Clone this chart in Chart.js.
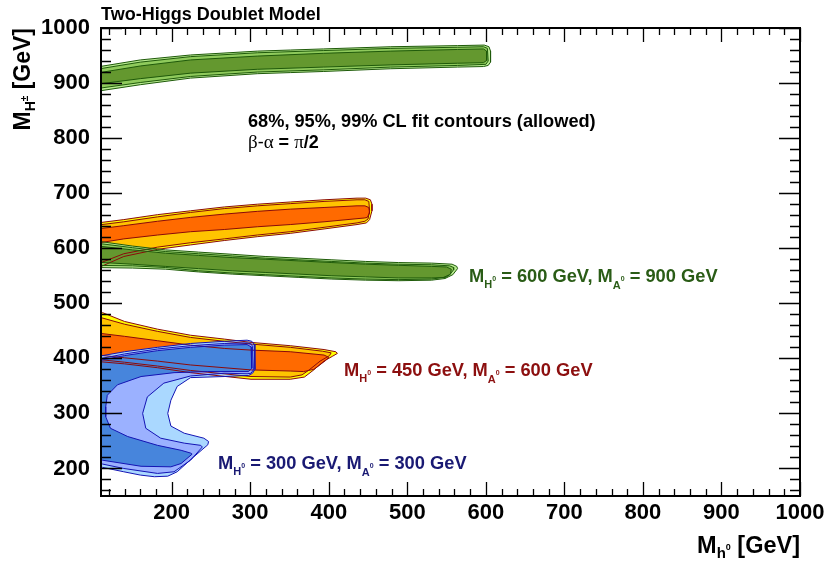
<!DOCTYPE html>
<html>
<head>
<meta charset="utf-8">
<script src="https://cdn.jsdelivr.net/npm/chart.js@4.4.0/dist/chart.umd.min.js"></script>
<style>
  html, body { margin: 0; padding: 0; background: #fff; }
  canvas { display: block; }
</style>
</head>
<body>
<canvas id="fit" width="827" height="566"></canvas>
<script>
// axis labels
const xTicks = [200, 300, 400, 500, 600, 700, 800, 900, 1000];
const yTicks = [200, 300, 400, 500, 600, 700, 800, 900, 1000];

// fit contours, points are [M_h0, M_H+-] in GeV (99%, 95%, 68% CL)
// M_H0 = 600, M_A0 = 900 : upper solution
const topGreen99 = [[100,928],[160,942],[224,951],[309,958],[351,960],[393,962],[479,966],[564,968],[598,969],[604,966],[606,958],[606,938],[603,932],[597,930],[564,929],[479,926],[393,921],[351,919],[309,917],[224,909],[160,897],[100,884]];
const topGreen95 = [[100,924],[160,938],[224,948],[309,955],[393,959],[479,963],[564,965],[597,966],[602,963],[603,940],[600,934],[564,932],[479,929],[393,924],[309,920],[224,912],[160,901],[100,889]];
const topGreen68 = [[100,917],[160,931],[224,942],[309,949],[393,954],[479,958],[564,961],[597,962],[601,958],[601,941],[597,937],[564,936],[479,933],[393,929],[309,925],[224,918],[160,908],[100,897]];

// M_H0 = 600, M_A0 = 900 : lower solution
const midGreen99 = [[100,614],[150,604],[192,597],[234,593],[277,589],[319,585],[362,582],[404,579],[447,576],[489,574],[531,573],[557,571],[563,567],[564,563],[558,552],[548,545],[531,542],[489,541],[447,542],[404,544],[362,547],[319,550],[277,553],[234,557],[192,562],[150,564],[100,565]];
const midGreen95 = [[100,610],[150,601],[192,594],[234,590],[277,586],[319,582],[362,579],[404,576],[447,573],[489,571],[531,570],[554,568],[559,565],[559,561],[554,552],[546,547],[531,544],[489,543],[447,544],[404,546],[362,549],[319,552],[277,555],[234,559],[192,565],[150,568],[100,569]];
const midGreen68 = [[100,605],[150,597],[192,591],[234,587],[277,583],[319,580],[362,577],[404,574],[447,571],[489,569],[531,567],[550,566],[556,562],[555,553],[549,547],[531,546],[489,546],[447,548],[404,550],[362,553],[319,556],[277,559],[234,563],[192,567],[150,571],[100,575]];

// M_H0 = 450, M_A0 = 600 : upper solution
const topOrange99 = [[100,645],[139,652],[182,661],[224,668],[267,675],[309,680],[351,684],[394,688],[436,691],[447,691],[453,688],[455,680],[455,668],[452,652],[448,646],[436,643],[394,635],[351,627],[309,621],[267,614],[224,606],[182,598],[139,585],[112,568],[100,560]];
const topOrange95 = [[100,641],[139,648],[182,657],[224,665],[267,672],[309,677],[351,681],[394,685],[436,688],[446,688],[451,685],[452,668],[450,653],[446,649],[436,646],[394,638],[351,630],[309,624],[267,617],[224,610],[182,602],[139,590],[112,575],[100,568]];
const topOrange68 = [[100,634],[139,641],[182,649],[224,656],[267,662],[309,667],[351,671],[394,674],[436,677],[446,677],[451,674],[452,664],[449,656],[446,655],[394,648],[351,643],[309,639],[267,634],[224,630],[182,624],[139,617],[100,608]];

// M_H0 = 450, M_A0 = 600 : lower solution
const lowOrange99 = [[100,485],[112,483],[140,467],[182,453],[224,442],[267,435],[301,429],[351,423],[394,416],[409,412],[411,409],[405,404],[394,395],[380,378],[369,366],[351,362],[301,362],[224,374],[182,383],[140,390],[100,395]];
const lowOrange95 = [[100,478],[140,462],[182,449],[224,438],[267,431],[301,426],[351,420],[392,413],[403,410],[401,405],[389,395],[375,379],[366,370],[351,366],[301,367],[224,378],[182,386],[140,393],[100,399]];
const lowOrange68 = [[100,447],[140,440],[182,432],[224,424],[267,418],[301,415],[351,412],[394,406],[400,402],[396,396],[381,380],[368,376],[351,377],[301,379],[224,388],[182,395],[140,401],[100,407]];

// M_H0 = 300, M_A0 = 300
const blue99 = [[100,402],[140,412],[182,420],[224,427],[267,431],[296,433],[302,431],[305,426],[306,380],[303,373],[298,369],[267,367],[224,365],[207,349],[199,324],[195,300],[199,277],[216,264],[241,255],[247,249],[246,243],[228,221],[207,194],[195,186],[178,185],[160,188],[139,194],[112,202],[100,205]];
const blue95 = [[100,397],[140,408],[182,417],[224,423],[267,427],[296,428],[301,426],[303,422],[304,379],[301,373],[296,372],[267,373],[224,368],[190,355],[169,330],[163,300],[167,273],[186,255],[216,246],[237,242],[239,239],[224,215],[203,194],[182,191],[139,200],[112,208],[100,210]];
const blue68 = [[100,394],[140,405],[182,414],[224,420],[267,424],[296,425],[301,421],[302,382],[298,376],[246,376],[203,374],[161,367],[131,352],[118,333],[116,312],[116,294],[122,273],[144,258],[182,242],[212,233],[224,228],[226,226],[212,209],[199,203],[161,204],[112,215],[100,218]];

const SANS = '"Liberation Sans", Arial, Helvetica, sans-serif';
const SERIF = '"Liberation Serif", "Times New Roman", serif';
const bold = s => `bold ${s}px ${SANS}`;

const greens = ['#b8ea90', '#8fca5c', '#64982f'];
const oranges = ['#ffff00', '#ffc400', '#ff6a00'];
const blues = ['#aad8ff', '#9bb1ff', '#4785dc'];

// fills are stacked in this order, all outlines go on top
const layers = [
  {levels: [topGreen99, topGreen95, topGreen68], colors: greens, edge: '#1f5a0a'},
  {levels: [topOrange99, topOrange95, topOrange68], colors: oranges, edge: '#8b0a0a'},
  {levels: [midGreen99, midGreen95, midGreen68], colors: greens, edge: '#1f5a0a'},
  {levels: [lowOrange99, lowOrange95, lowOrange68], colors: oranges, edge: '#8b0a0a'},
  {levels: [blue99, blue95, blue68], colors: blues, edge: '#1414b4'}
];

const toXY = pts => pts.map(([x, y]) => ({x, y}));

const datasets = [];
let n = 0;
layers.forEach(layer => {
  layer.levels.forEach((pts, i) => {
    datasets.push({
      data: toXY(pts),
      fill: 'shape',
      backgroundColor: layer.colors[i],
      borderColor: 'rgba(0,0,0,0)',
      borderWidth: 0,
      pointRadius: 0,
      tension: 0,
      order: 1000 - n++
    });
  });
});
layers.forEach(layer => {
  layer.levels.forEach(pts => {
    datasets.push({
      data: toXY(pts.concat([pts[0]])),
      fill: false,
      borderColor: layer.edge,
      borderWidth: 1,
      pointRadius: 0,
      tension: 0,
      order: 100 - n++
    });
  });
});

// draws a string made of pieces with their own font and vertical shift
function rich(ctx, x, y, parts, align) {
  let w = 0;
  parts.forEach(p => { ctx.font = p.f; w += ctx.measureText(p.t).width; });
  let cx = align === 'right' ? x - w : x;
  parts.forEach(p => {
    ctx.font = p.f;
    ctx.fillText(p.t, cx, y + (p.dy || 0));
    cx += ctx.measureText(p.t).width;
  });
}

function massLabel(mH, mA) {
  return [
    {t: 'M', f: bold(18.3)}, {t: 'H', f: bold(11), dy: 6}, {t: '0', f: bold(7), dy: -1},
    {t: ` = ${mH} GeV, M`, f: bold(18.3)}, {t: 'A', f: bold(11), dy: 7}, {t: '0', f: bold(7), dy: -1},
    {t: ` = ${mA} GeV`, f: bold(18.3)}
  ];
}

const frame = {
  id: 'frame',
  afterDatasetsDraw(chart) {
    const {ctx, chartArea: a, scales: {x, y}} = chart;
    ctx.save();
    ctx.strokeStyle = '#000';
    ctx.lineWidth = 1.3;
    ctx.beginPath();
    for (let v = 120; v <= 1000; v += 20) {
      const px = Math.round(x.getPixelForValue(v)) + 0.5;
      const len = v % 100 === 0 ? 14 : 7;
      ctx.moveTo(px, a.bottom); ctx.lineTo(px, a.bottom - len);
      ctx.moveTo(px, a.top); ctx.lineTo(px, a.top + len);
    }
    for (let v = 160; v <= 1000; v += 20) {
      const py = Math.round(y.getPixelForValue(v)) + 0.5;
      const len = v % 100 === 0 ? 21 : 10;
      ctx.moveTo(a.left, py); ctx.lineTo(a.left + len, py);
      ctx.moveTo(a.right, py); ctx.lineTo(a.right - len, py);
    }
    ctx.stroke();
    ctx.lineWidth = 2;
    ctx.strokeRect(a.left, a.top, a.right - a.left, a.bottom - a.top);
    ctx.restore();
  },
  afterDraw(chart) {
    const {ctx, chartArea: a} = chart;
    ctx.save();
    ctx.textAlign = 'left';
    ctx.textBaseline = 'alphabetic';
    ctx.fillStyle = '#000';

    ctx.font = bold(18);
    ctx.fillText('Two-Higgs Doublet Model', a.left, 20);

    ctx.font = bold(18.2);
    ctx.fillText('68%, 95%, 99% CL fit contours (allowed)', 248, 127);
    rich(ctx, 248, 148, [
      {t: '\u03b2', f: `19px ${SERIF}`}, {t: '-', f: `18px ${SANS}`}, {t: '\u03b1', f: `19px ${SERIF}`},
      {t: ' = ', f: bold(18)}, {t: '\u03c0', f: `19px ${SERIF}`}, {t: '/2', f: bold(18)}
    ]);

    ctx.fillStyle = '#2a5c16';
    rich(ctx, 469, 282, massLabel(600, 900));
    ctx.fillStyle = '#8c0f0f';
    rich(ctx, 344, 376, massLabel(450, 600));
    ctx.fillStyle = '#191973';
    rich(ctx, 218, 469, massLabel(300, 300));

    // axis titles
    ctx.fillStyle = '#000';
    rich(ctx, a.right, 553, [
      {t: 'M', f: bold(23.5)}, {t: 'h', f: bold(15), dy: 5}, {t: '0', f: bold(9), dy: -3}, {t: ' [GeV]', f: bold(23.5)}
    ], 'right');
    ctx.translate(30, a.top);
    ctx.rotate(-Math.PI / 2);
    rich(ctx, 0, 0, [
      {t: 'M', f: bold(23)}, {t: 'H', f: bold(14), dy: 5}, {t: '\u00b1', f: bold(10), dy: -2}, {t: ' [GeV]', f: bold(23)}
    ], 'right');
    ctx.restore();
  }
};

const tickFont = {family: SANS, size: 22, weight: 'bold'};

new Chart(document.getElementById('fit'), {
  type: 'line',
  data: {datasets},
  options: {
    responsive: false,
    animation: false,
    devicePixelRatio: 1,
    layout: {padding: {top: 28, right: 27, left: 0, bottom: 0}},
    plugins: {legend: {display: false}, tooltip: {enabled: false}},
    events: [],
    scales: {
      x: {
        type: 'linear', min: 110, max: 1000,
        afterBuildTicks: s => { s.ticks = xTicks.map(v => ({value: v})); },
        afterFit: s => { s.height = 70; s.paddingLeft = 0; s.paddingRight = 0; },
        grid: {display: false, drawTicks: false},
        border: {display: false},
        ticks: {font: tickFont, color: '#000', padding: 4, maxRotation: 0, autoSkip: false, callback: v => String(v)}
      },
      y: {
        type: 'linear', min: 150, max: 1000,
        afterBuildTicks: s => { s.ticks = yTicks.map(v => ({value: v})); },
        afterFit: s => { s.width = 101; },
        grid: {display: false, drawTicks: false},
        border: {display: false},
        ticks: {font: tickFont, color: '#000', padding: 11, autoSkip: false, callback: v => String(v)}
      }
    }
  },
  plugins: [frame]
});
</script>
</body>
</html>
